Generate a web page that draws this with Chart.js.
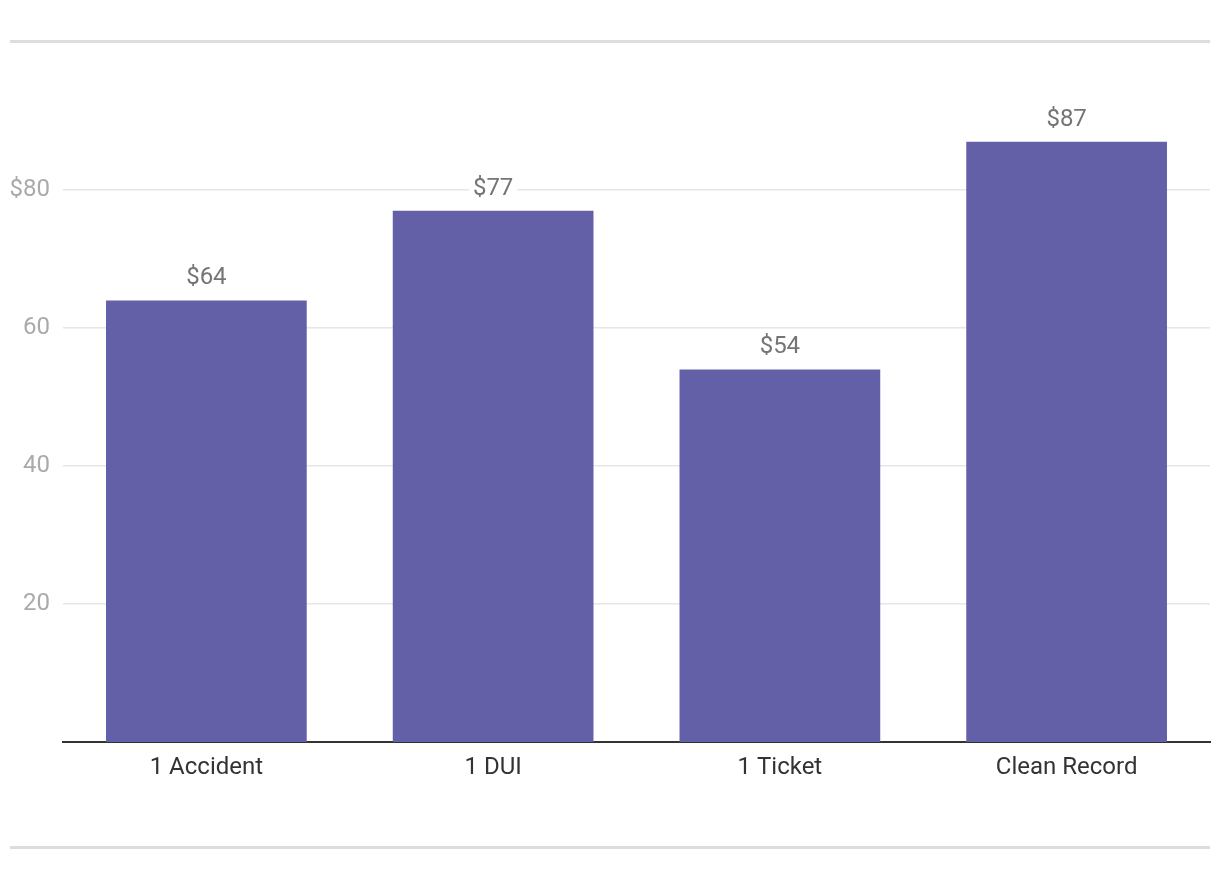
<!DOCTYPE html>
<html>
<head>
<meta charset="utf-8">
<script src="https://cdn.jsdelivr.net/npm/chart.js@4/dist/chart.umd.min.js"></script>
<style>
  html, body { margin: 0; padding: 0; background: #fff; }
  #wrap { width: 1220px; height: 880px; position: relative; }
  canvas { display: block; }
</style>
</head>
<body>
<div id="wrap"><canvas id="c" width="1220" height="880"></canvas></div>
<script>
const categories = ['1 Accident', '1 DUI', '1 Ticket', 'Clean Record'];
const values = [64, 77, 54, 87];
const tickValues = [20, 40, 60, 80];

const frameLines = {
  id: 'frameLines',
  beforeDraw(chart) {
    const ctx = chart.ctx;
    ctx.save();
    ctx.fillStyle = '#dddddd';
    ctx.fillRect(10, 40, 1200, 3);
    ctx.fillRect(10, 846, 1200, 3);
    ctx.restore();
  }
};

const valueLabels = {
  id: 'valueLabels',
  afterDatasetsDraw(chart) {
    const ctx = chart.ctx;
    const meta = chart.getDatasetMeta(0);
    ctx.save();
    ctx.font = '24px Roboto';
    ctx.textAlign = 'center';
    ctx.textBaseline = 'alphabetic';
    meta.data.forEach((bar, i) => {
      const txt = '$' + values[i];
      const w = ctx.measureText(txt).width;
      const y = bar.y - 16;
      ctx.fillStyle = '#ffffff';
      ctx.fillRect(bar.x - w / 2 - 4, y - 21, w + 8, 27);
      ctx.fillStyle = '#757575';
      ctx.fillText(txt, bar.x, y);
    });
    ctx.restore();
  }
};

new Chart(document.getElementById('c'), {
  type: 'bar',
  data: {
    labels: categories,
    datasets: [{
      data: values,
      backgroundColor: '#6460a7',
      borderWidth: 0,
      categoryPercentage: 1.0,
      barPercentage: 0.7
    }]
  },
  options: {
    responsive: false,
    animation: false,
    devicePixelRatio: 1,
    layout: { padding: { left: 0, right: 10, top: 52, bottom: 0 } },
    plugins: { legend: { display: false }, tooltip: { enabled: false } },
    scales: {
      x: {
        grid: { display: false, drawTicks: false },
        border: { display: true, color: '#333333', width: 2 },
        ticks: { color: '#333333', font: { family: 'Roboto', size: 24 }, padding: 12 },
        afterFit(scale) { scale.height = 138; }
      },
      y: {
        min: 0,
        max: 100,
        afterBuildTicks(scale) { scale.ticks = tickValues.map(v => ({ value: v })); },
        grid: { color: '#e6e6e6', lineWidth: 1.5, drawTicks: false },
        border: { display: false },
        ticks: {
          color: '#aaaaaa',
          font: { family: 'Roboto', size: 24 },
          padding: 13,
          callback: (v) => v === 80 ? '$80' : String(v)
        },
        afterFit(scale) { scale.width = 63; }
      }
    }
  },
  plugins: [frameLines, valueLabels]
});
</script>
</body>
</html>
